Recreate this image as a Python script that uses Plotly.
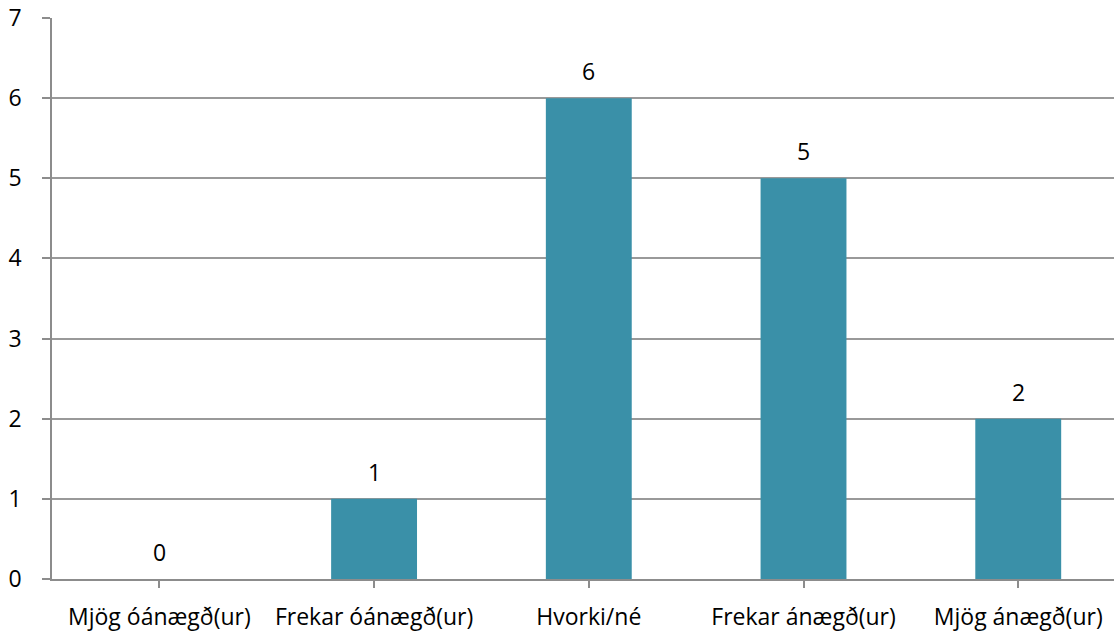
import plotly.graph_objects as go

categories = ["Mjög óánægð(ur)", "Frekar óánægð(ur)", "Hvorki/né", "Frekar ánægð(ur)", "Mjög ánægð(ur)"]
values = [0, 1, 6, 5, 2]
y_ticks = [0, 1, 2, 3, 4, 5, 6, 7]

FONT = "Open Sans, Lato, sans-serif"

x_pos = list(range(len(categories)))

fig = go.Figure(go.Bar(
    x=x_pos,
    y=values,
    width=0.4,
    marker=dict(color="#3A90A8", line=dict(width=0)),
))

for xi, v in zip(x_pos, values):
    fig.add_annotation(
        x=xi, y=v, text=str(v), showarrow=False,
        yanchor="middle", yshift=27,
        font=dict(size=23, color="#000000", family=FONT),
    )

fig.update_layout(
    width=1114, height=637,
    margin=dict(l=52, r=0, t=18, b=58),
    plot_bgcolor="white", paper_bgcolor="white",
    showlegend=False,
    font=dict(family=FONT, size=23, color="#000000"),
)
fig.update_xaxes(
    tickmode="array",
    tickvals=x_pos,
    ticktext=categories,
    range=[-0.5, 4.446],
    showline=True, linecolor="#8c8c8c", linewidth=1.5,
    ticks="outside", tickson="boundaries", ticklen=7, tickcolor="#8c8c8c", tickwidth=1.5,
    showgrid=False, zeroline=False,
    tickfont=dict(size=23, family=FONT),
    ticklabelstandoff=10,
)
fig.update_yaxes(
    range=[0, 7],
    tickmode="array", tickvals=y_ticks, ticktext=[str(t) for t in y_ticks],
    showline=True, linecolor="#8c8c8c", linewidth=1.5,
    ticks="outside", ticklen=8, tickcolor="#8c8c8c", tickwidth=1.5,
    showgrid=True, gridcolor="#999999", gridwidth=1.5,
    zeroline=False,
    tickfont=dict(size=23, family=FONT),
    ticklabelstandoff=16,
)

fig.write_html("out.html")
